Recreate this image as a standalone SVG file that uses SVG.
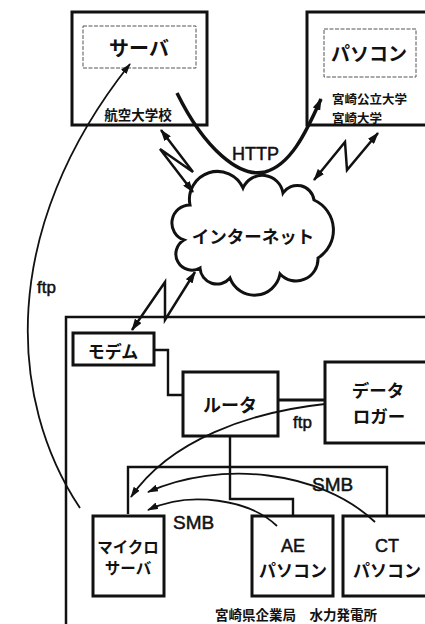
<svg xmlns="http://www.w3.org/2000/svg" width="425" height="624" viewBox="0 0 425 624">
<style>
.box{fill:#fff;stroke:#111;stroke-width:3}
.thin{fill:none;stroke:#111;stroke-width:2.4}
.dash{fill:none;stroke:#555;stroke-width:1;stroke-dasharray:4 1.5}
.ln{fill:none;stroke:#111;stroke-width:2.5}
.cv{fill:none;stroke:#111;stroke-width:1.8}
.jp{font-family:"Noto Sans CJK JP","Noto Sans CJK SC",sans-serif;font-weight:bold;fill:#111;text-anchor:middle;dominant-baseline:central}
.en{font-family:"Liberation Sans",Arial,sans-serif;fill:#111;stroke:#111;stroke-width:0.5}
</style>
<defs>
<marker id="ah" viewBox="0 0 12 8" refX="11" refY="4" markerWidth="12" markerHeight="8" orient="auto-start-reverse" markerUnits="userSpaceOnUse"><path d="M0,0 L12,4 L0,8 z" fill="#111"/></marker>
<marker id="as" viewBox="0 0 11 7" refX="10" refY="3.5" markerWidth="11" markerHeight="7" orient="auto-start-reverse" markerUnits="userSpaceOnUse"><path d="M0,0 L11,3.5 L0,7 z" fill="#111"/></marker>
</defs>
<rect width="425" height="624" fill="#fff"/>

<g id="site">
<rect class="box" x="66" y="317" width="380" height="330" style="stroke-width:2.5"/>
<text class="jp" x="296" y="614" font-size="13.5">宮崎県企業局　水力発電所</text>
</g>

<g id="univ-server">
<rect class="box" x="72" y="12" width="135" height="113"/>
<rect class="dash" x="83" y="26" width="113" height="42"/>
<text class="jp" x="139" y="47" font-size="20">サーバ</text>
<text class="jp" x="138" y="114" font-size="13.5">航空大学校</text>
</g>

<g id="pc">
<rect class="box" x="307" y="12" width="130" height="113"/>
<rect class="dash" x="324" y="29" width="92" height="48"/>
<text class="jp" x="369" y="52" font-size="19">パソコン</text>
<text class="jp" x="332" y="98" font-size="12.5" style="text-anchor:start">宮崎公立大学</text>
<text class="jp" x="332" y="117" font-size="12.5" style="text-anchor:start">宮崎大学</text>
</g>

<g id="internet">
<path d="M190,205 A28,28 0 0 1 243,188 A21,21 0 0 1 283,193 A17,17 0 0 1 314,200 A33,33 0 0 1 318,258 A22,22 0 0 1 280,274 A26,26 0 0 1 230,278 A17,17 0 0 1 200,268 A16,16 0 0 1 184,240 A18,18 0 0 1 190,205 Z" fill="#fff" stroke="#111" stroke-width="3"/>
<text class="jp" x="253" y="235" font-size="17.5">インターネット</text>
</g>

<g id="modem">
<rect class="box" x="73" y="333" width="81" height="32"/>
<text class="jp" x="113" y="350" font-size="17">モデム</text>
</g>

<g id="router">
<rect class="box" x="183" y="372" width="95" height="64"/>
<text class="jp" x="230" y="404" font-size="18">ルータ</text>
</g>

<g id="logger">
<rect class="box" x="325" y="362" width="120" height="81"/>
<text class="jp" x="378" y="389" font-size="17.5">データ</text>
<text class="jp" x="379" y="415" font-size="17.5">ロガー</text>
</g>

<g id="micro-server">
<rect class="box" x="93" y="516" width="71" height="80"/>
<text class="jp" x="128" y="546" font-size="15.5">マイクロ</text>
<text class="jp" x="128" y="567" font-size="15.5">サーバ</text>
</g>

<g id="ae-pc">
<rect class="box" x="252" y="516" width="81" height="80"/>
<text class="en" x="293" y="552" font-size="18" text-anchor="middle">AE</text>
<text class="jp" x="293" y="569" font-size="17">パソコン</text>
</g>

<g id="ct-pc">
<rect class="box" x="343" y="516" width="100" height="80"/>
<text class="en" x="387" y="552" font-size="18" text-anchor="middle">CT</text>
<text class="jp" x="387" y="569" font-size="17">パソコン</text>
</g>

<g id="connectors">
<polyline class="thin" points="154,350 168,350 168,395 183,395"/>
<line class="ln" x1="278" y1="400" x2="325" y2="400" style="stroke-width:3"/>
<polyline class="thin" points="230,436 230,499 293,499 293,516"/>
<polyline class="thin" points="128,514 128,467 387,467 387,516"/>

<path d="M177,93 C205,150 240,178 265,172 C290,165 305,135 321,99" fill="none" stroke="#111" stroke-width="3.5" marker-end="url(#ah)"/>
<polyline class="ln" points="161,130 193,172 160,149 193,192" marker-start="url(#ah)" marker-end="url(#ah)"/>
<polyline class="ln" points="378,133 347,170 345,142 314,180" marker-start="url(#ah)" marker-end="url(#ah)"/>
<polyline class="ln" points="195,272 165,320 165,282 132,330" marker-start="url(#ah)" marker-end="url(#ah)"/>

<path class="cv" d="M80,508 C8,400 -2,230 130,64" marker-end="url(#as)"/>
<path class="cv" d="M325,404 C250,412 170,440 131,497" marker-end="url(#as)"/>
<path class="cv" d="M375,522 C320,470 220,460 148,492" marker-end="url(#as)"/>
<path class="cv" d="M277,526 C250,500 190,490 148,510" marker-end="url(#as)"/>

<text class="en" x="232" y="160" font-size="18">HTTP</text>
<text class="en" x="37" y="293" font-size="17">ftp</text>
<text class="en" x="293" y="428" font-size="17">ftp</text>
<text class="en" x="312" y="491" font-size="19">SMB</text>
<text class="en" x="173" y="529" font-size="19">SMB</text>
</g>
</svg>
